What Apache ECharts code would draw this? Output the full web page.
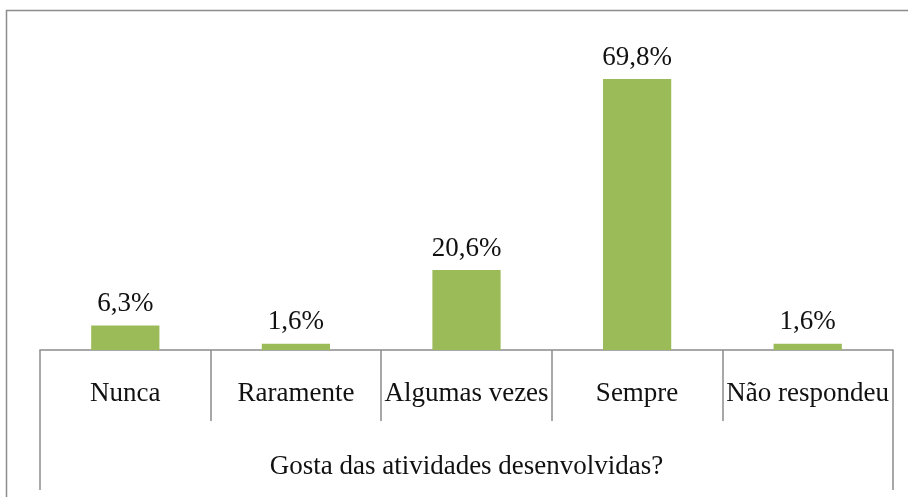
<!DOCTYPE html>
<html>
<head>
<meta charset="utf-8">
<script src="https://cdn.jsdelivr.net/npm/echarts@6/dist/echarts.min.js"></script>
<style>
  html, body { margin: 0; padding: 0; background: #fff; }
  #chart { width: 908px; height: 497px; }
</style>
</head>
<body>
<div id="chart"></div>
<script>
  // dados do gráfico
  const categories = ['Nunca', 'Raramente', 'Algumas vezes', 'Sempre', 'Não respondeu'];
  const values = [6.3, 1.6, 20.6, 69.8, 1.6];
  const groupTitle = ['Gosta das atividades desenvolvidas?'];

  const font = '"Liberation Serif", "Times New Roman", serif';
  const lineColor = '#8c8c8c';

  let chart = echarts.init(document.getElementById('chart'));
  chart.setOption({
    animation: false,
    textStyle: { fontFamily: font },
    graphic: [
      {
        // moldura externa
        type: 'rect',
        shape: { x: 6.5, y: 10.5, width: 1000, height: 1000 },
        style: { fill: 'none', stroke: lineColor, lineWidth: 1.5 },
        silent: true
      }
    ],
    grid: { left: 40, right: 15, top: 39.4, bottom: 147 },
    xAxis: [
      {
        type: 'category',
        data: categories,
        position: 'bottom',
        axisLine: { show: true, lineStyle: { color: lineColor, width: 1.5 } },
        axisTick: { show: true, alignWithLabel: false, length: 71, lineStyle: { color: lineColor, width: 1.5 } },
        axisLabel: { margin: 30, color: '#111', fontSize: 27, fontFamily: font, interval: 0 }
      },
      {
        type: 'category',
        data: groupTitle,
        position: 'bottom',
        axisLine: { show: false },
        axisTick: { show: true, length: 140, lineStyle: { color: lineColor, width: 1.5 } },
        axisLabel: { margin: 103, color: '#111', fontSize: 27, fontFamily: font }
      }
    ],
    yAxis: {
      type: 'value',
      min: 0,
      max: 80,
      show: false,
      splitLine: { show: false }
    },
    series: [
      {
        type: 'bar',
        xAxisIndex: 0,
        data: values,
        barWidth: '40%',
        itemStyle: { color: '#9bbb59' },
        label: {
          show: true,
          position: 'top',
          distance: 8,
          color: '#111',
          fontSize: 27,
          fontFamily: font,
          formatter: p => p.value.toFixed(1).replace('.', ',') + '%'
        }
      }
    ]
  });
</script>
</body>
</html>
